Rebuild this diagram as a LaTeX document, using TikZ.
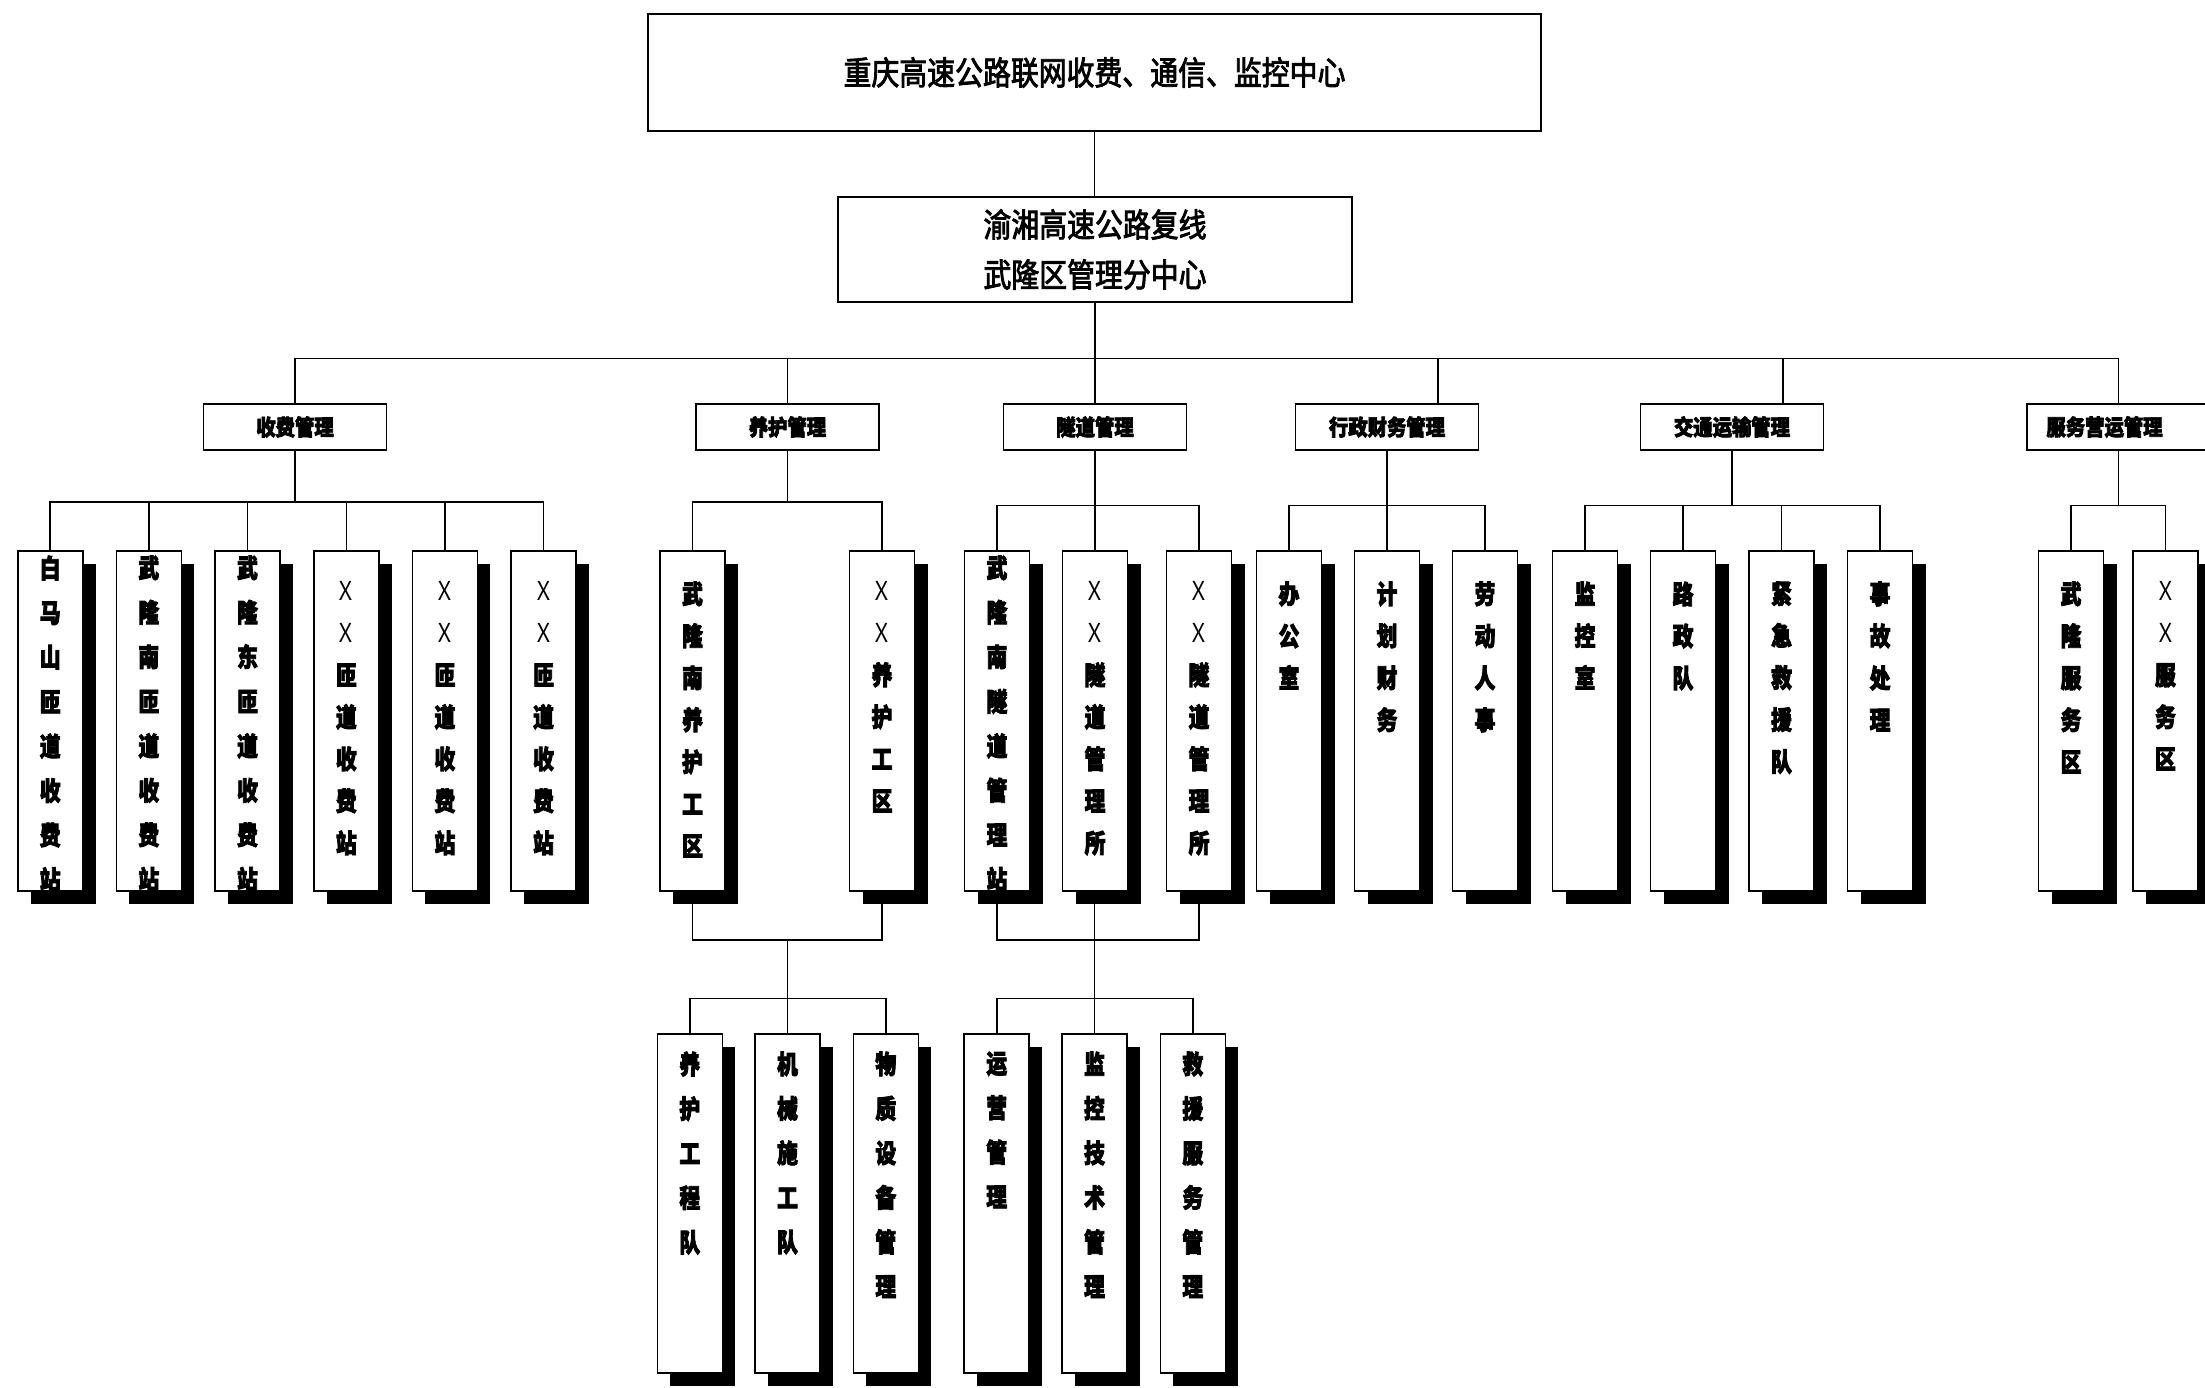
\documentclass[tikz,border=0pt]{standalone}
\usepackage{fontspec}
\setmainfont{Noto Sans CJK SC}
\newfontfamily\topf[FakeStretch=0.85,FakeBold=2.5]{Noto Sans CJK SC}
\newfontfamily\grpf[FakeStretch=0.88,BoldFeatures={FakeBold=3}]{Noto Sans CJK SC}
\newfontfamily\leaff[FakeStretch=0.8,BoldFeatures={FakeBold=3}]{Noto Sans CJK SC}
\usetikzlibrary{shadows,calc}
\newcommand\XX{{\mdseries Ｘ}}
\begin{document}
\begin{tikzpicture}[x=0.5pt,y=-0.5pt,
 conn/.style={line width=0.8pt},
 box/.style={draw,line width=0.8pt,fill=white,inner sep=0pt},
 topbox/.style={box,minimum width=446.5pt,minimum height=58.5pt,font=\topf\fontsize{16.4pt}{25pt}\selectfont},
 subbox/.style={box,minimum width=257pt,minimum height=52.5pt,align=center,font=\topf\fontsize{16.4pt}{25pt}\selectfont},
 grp/.style={box,minimum width=91.5pt,minimum height=23pt,font=\grpf\bfseries\fontsize{11pt}{12pt}\selectfont},
 leaf/.style={box,minimum width=32.5pt,minimum height=170pt,drop shadow={shadow xshift=6.5pt,shadow yshift=-6.5pt,fill=black,opacity=1}},
 leafb/.style={leaf,minimum height=169.5pt},
 vtbase/.style={anchor=north,inner sep=0pt,align=center},
 vt/.style={vtbase,font=\leaff\bfseries\fontsize{13pt}{21pt}\selectfont,yshift=-15.5pt},
 vtl/.style={vtbase,font=\leaff\bfseries\fontsize{13pt}{22.25pt}\selectfont,yshift=-2.5pt},
 vtb/.style={vtbase,font=\leaff\bfseries\fontsize{13pt}{22.25pt}\selectfont,yshift=-9pt},
]
\useasboundingbox[fill=white] (0,0) rectangle (2205,1387);

% top levels
\node[topbox] (top) at (1094.5,72.5) {重庆高速公路联网收费、通信、监控中心};
\node[subbox] (sub) at (1095,249.5) {渝湘高速公路复线\\武隆区管理分中心};
\node[grp] (g1) at (295,427) {收费管理};
\node[grp] (g2) at (787.5,427) {养护管理};
\node[grp] (g3) at (1095,427) {隧道管理};
\node[grp] (g4) at (1387,427) {行政财务管理};
\node[grp] (g5) at (1732,427) {交通运输管理};
\node[grp] (g6) at (2118.5,427) {服务营运管理\hspace*{14pt}};

% leaves
\node[leaf,label={[vtl]north:白\\马\\山\\匝\\道\\收\\费\\站}] (s1) at (50.2,721) {};
\node[leaf,label={[vtl]north:武\\隆\\南\\匝\\道\\收\\费\\站}] (s2) at (148.8,721) {};
\node[leaf,label={[vtl]north:武\\隆\\东\\匝\\道\\收\\费\\站}] (s3) at (247.5,721) {};
\node[leaf,label={[vt]north:\XX\\\XX\\匝\\道\\收\\费\\站}] (s4) at (346.3,721) {};
\node[leaf,label={[vt]north:\XX\\\XX\\匝\\道\\收\\费\\站}] (s5) at (444.9,721) {};
\node[leaf,label={[vt]north:\XX\\\XX\\匝\\道\\收\\费\\站}] (s6) at (543.5,721) {};

\node[leaf,label={[vt]north:武\\隆\\南\\养\\护\\工\\区}] (y1) at (692.5,721) {};
\node[leaf,label={[vt]north:\XX\\\XX\\养\\护\\工\\区}] (y2) at (882,721) {};

\node[leaf,label={[vtl]north:武\\隆\\南\\隧\\道\\管\\理\\站}] (t1) at (997,721) {};
\node[leaf,label={[vt]north:\XX\\\XX\\隧\\道\\管\\理\\所}] (t2) at (1095,721) {};
\node[leaf,label={[vt]north:\XX\\\XX\\隧\\道\\管\\理\\所}] (t3) at (1199,721) {};

\node[leaf,label={[vt]north:办\\公\\室}] (x1) at (1289,721) {};
\node[leaf,label={[vt]north:计\\划\\财\\务}] (x2) at (1387,721) {};
\node[leaf,label={[vt]north:劳\\动\\人\\事}] (x3) at (1485,721) {};

\node[leaf,label={[vt]north:监\\控\\室}] (j1) at (1585,721) {};
\node[leaf,label={[vt]north:路\\政\\队}] (j2) at (1683,721) {};
\node[leaf,label={[vt]north:紧\\急\\救\\援\\队}] (j3) at (1781.5,721) {};
\node[leaf,label={[vt]north:事\\故\\处\\理}] (j4) at (1880,721) {};

\node[leaf,label={[vt]north:武\\隆\\服\\务\\区}] (f1) at (2071,721) {};
\node[leaf,label={[vt]north:\XX\\\XX\\服\\务\\区}] (f2) at (2165.4,721) {};

\node[leafb,label={[vtb]north:养\\护\\工\\程\\队}] (m1) at (689.8,1203.5) {};
\node[leafb,label={[vtb]north:机\\械\\施\\工\\队}] (m2) at (787.5,1203.5) {};
\node[leafb,label={[vtb]north:物\\质\\设\\备\\管\\理}] (m3) at (885.8,1203.5) {};
\node[leafb,label={[vtb]north:运\\营\\管\\理}] (n1) at (996.7,1203.5) {};
\node[leafb,label={[vtb]north:监\\控\\技\\术\\管\\理}] (n2) at (1094.5,1203.5) {};
\node[leafb,label={[vtb]north:救\\援\\服\\务\\管\\理}] (n3) at (1192.8,1203.5) {};

% connectors: top levels
\draw[conn] (top.south) -- (top.south |- sub.north);
\draw[conn] (sub.south) -- (sub.south |- 0,358.5);
\draw[conn] (g1.north) |- (g6.north |- 0,358.5) -- (g6.north);
\draw[conn] (g2.north) -- (g2.north |- 0,358.5);
\draw[conn] (g3.north) -- (g3.north |- 0,358.5);
\draw[conn] ($(g4.north)+(51,0)$) -- ($(g4.north)+(51,-45.5)$);
\draw[conn] ($(g5.north)+(51,0)$) -- ($(g5.north)+(51,-45.5)$);

% group 1
\draw[conn] (g1.south) -- (g1.south |- 0,501.7);
\draw[conn] (s1.north) |- (s6.north |- 0,501.7) -- (s6.north);
\foreach \n in {s2,s3,s4,s5} \draw[conn] (\n.north) -- (\n.north |- 0,501.7);
% group 2
\draw[conn] (g2.south) -- (g2.south |- 0,501.7);
\draw[conn] (y1.north) |- (y2.north |- 0,501.7) -- (y2.north);
% group 3
\draw[conn] (g3.south) -- (g3.south |- t2.north);
\draw[conn] (t1.north) |- (t3.north |- 0,505.3) -- (t3.north);
% group 4
\draw[conn] (g4.south) -- (g4.south |- x2.north);
\draw[conn] (x1.north) |- (x3.north |- 0,505.3) -- (x3.north);
% group 5
\draw[conn] (g5.south) -- (g5.south |- 0,505.3);
\draw[conn] (j1.north) |- (j4.north |- 0,505.3) -- (j4.north);
\foreach \n in {j2,j3} \draw[conn] (\n.north) -- (\n.north |- 0,505.3);
% group 6
\draw[conn] (g6.south) -- (g6.south |- 0,505.3);
\draw[conn] (f1.north) |- (f2.north |- 0,505.3) -- (f2.north);

% lower maintenance
\draw[conn] (y1.south) |- (y2.south |- 0,940) -- (y2.south);
\draw[conn] (m2.north) -- (m2.north |- 0,940);
\draw[conn] (m1.north) |- (m3.north |- 0,998.5) -- (m3.north);
% lower tunnel
\draw[conn] (t1.south) |- (t3.south |- 0,940) -- (t3.south);
\draw[conn] (n2.north) -- (n2.north |- t2.south);
\draw[conn] (n1.north) |- (n3.north |- 0,998.5) -- (n3.north);
\end{tikzpicture}
\end{document}
